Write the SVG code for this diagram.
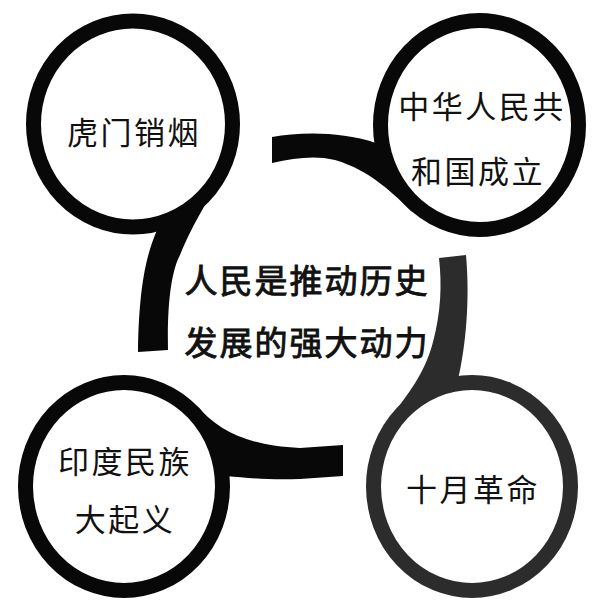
<svg xmlns="http://www.w3.org/2000/svg" width="602" height="611" viewBox="0 0 602 611">
<style>
.ring{fill:#fff;stroke:#080808;stroke-width:15}
.ring.gray{stroke:#2c2c2c}
.bar{fill:#080808}
.bar.gray{fill:#2c2c2c}
text{font-family:"Noto Sans CJK SC","Noto Sans CJK TC",sans-serif;fill:#111;text-anchor:middle;dominant-baseline:central}
.lbl{font-size:31px;letter-spacing:2.5px}
.ctr{font-size:33px;letter-spacing:2px;stroke:#111;stroke-width:0.9px}
</style>
<rect width="602" height="611" fill="#fff"/>
<g id="connectors">
<path class="bar" d="M158 228 C148 250 139 280 138 352 L168 350 C167 300 172 270 180 255 C186 240 195 222 205 205 Z"/>
<path class="bar" d="M272 137 C300 132 340 131 376 143 L412 212 C395 195 370 170 335 160 C315 155 295 158 272 163 Z"/>
<path class="bar gray" d="M439 258 L466 255 C470 300 466 345 458 380 L388 422 C402 400 424 378 433 342 C441 312 442 285 439 258 Z"/>
<path class="bar" d="M198 407 C218 430 248 446 300 448 L343 445 L343 476 L300 479 C268 480 248 478 226 476 Z"/>
</g>
<g id="node-humen">
<ellipse class="ring" cx="133" cy="124" rx="99.5" ry="103"/>
<text class="lbl" x="134" y="130">虎门销烟</text>
</g>
<g id="node-prc">
<ellipse class="ring" cx="479.5" cy="125" rx="99" ry="104.5"/>
<text class="lbl" x="482" y="104">中华人民共</text>
<text class="lbl" x="478" y="169">和国成立</text>
</g>
<g id="node-india">
<ellipse class="ring" cx="124" cy="486.5" rx="98.5" ry="104"/>
<text class="lbl" x="125" y="459">印度民族</text>
<text class="lbl" x="125" y="517">大起义</text>
</g>
<g id="node-october">
<ellipse class="ring gray" cx="472" cy="486.5" rx="98.5" ry="104"/>
<text class="lbl" x="473" y="487">十月革命</text>
</g>
<g id="node-center">
<text class="ctr" x="307" y="279">人民是推动历史</text>
<text class="ctr" x="307" y="341">发展的强大动力</text>
</g>
</svg>
